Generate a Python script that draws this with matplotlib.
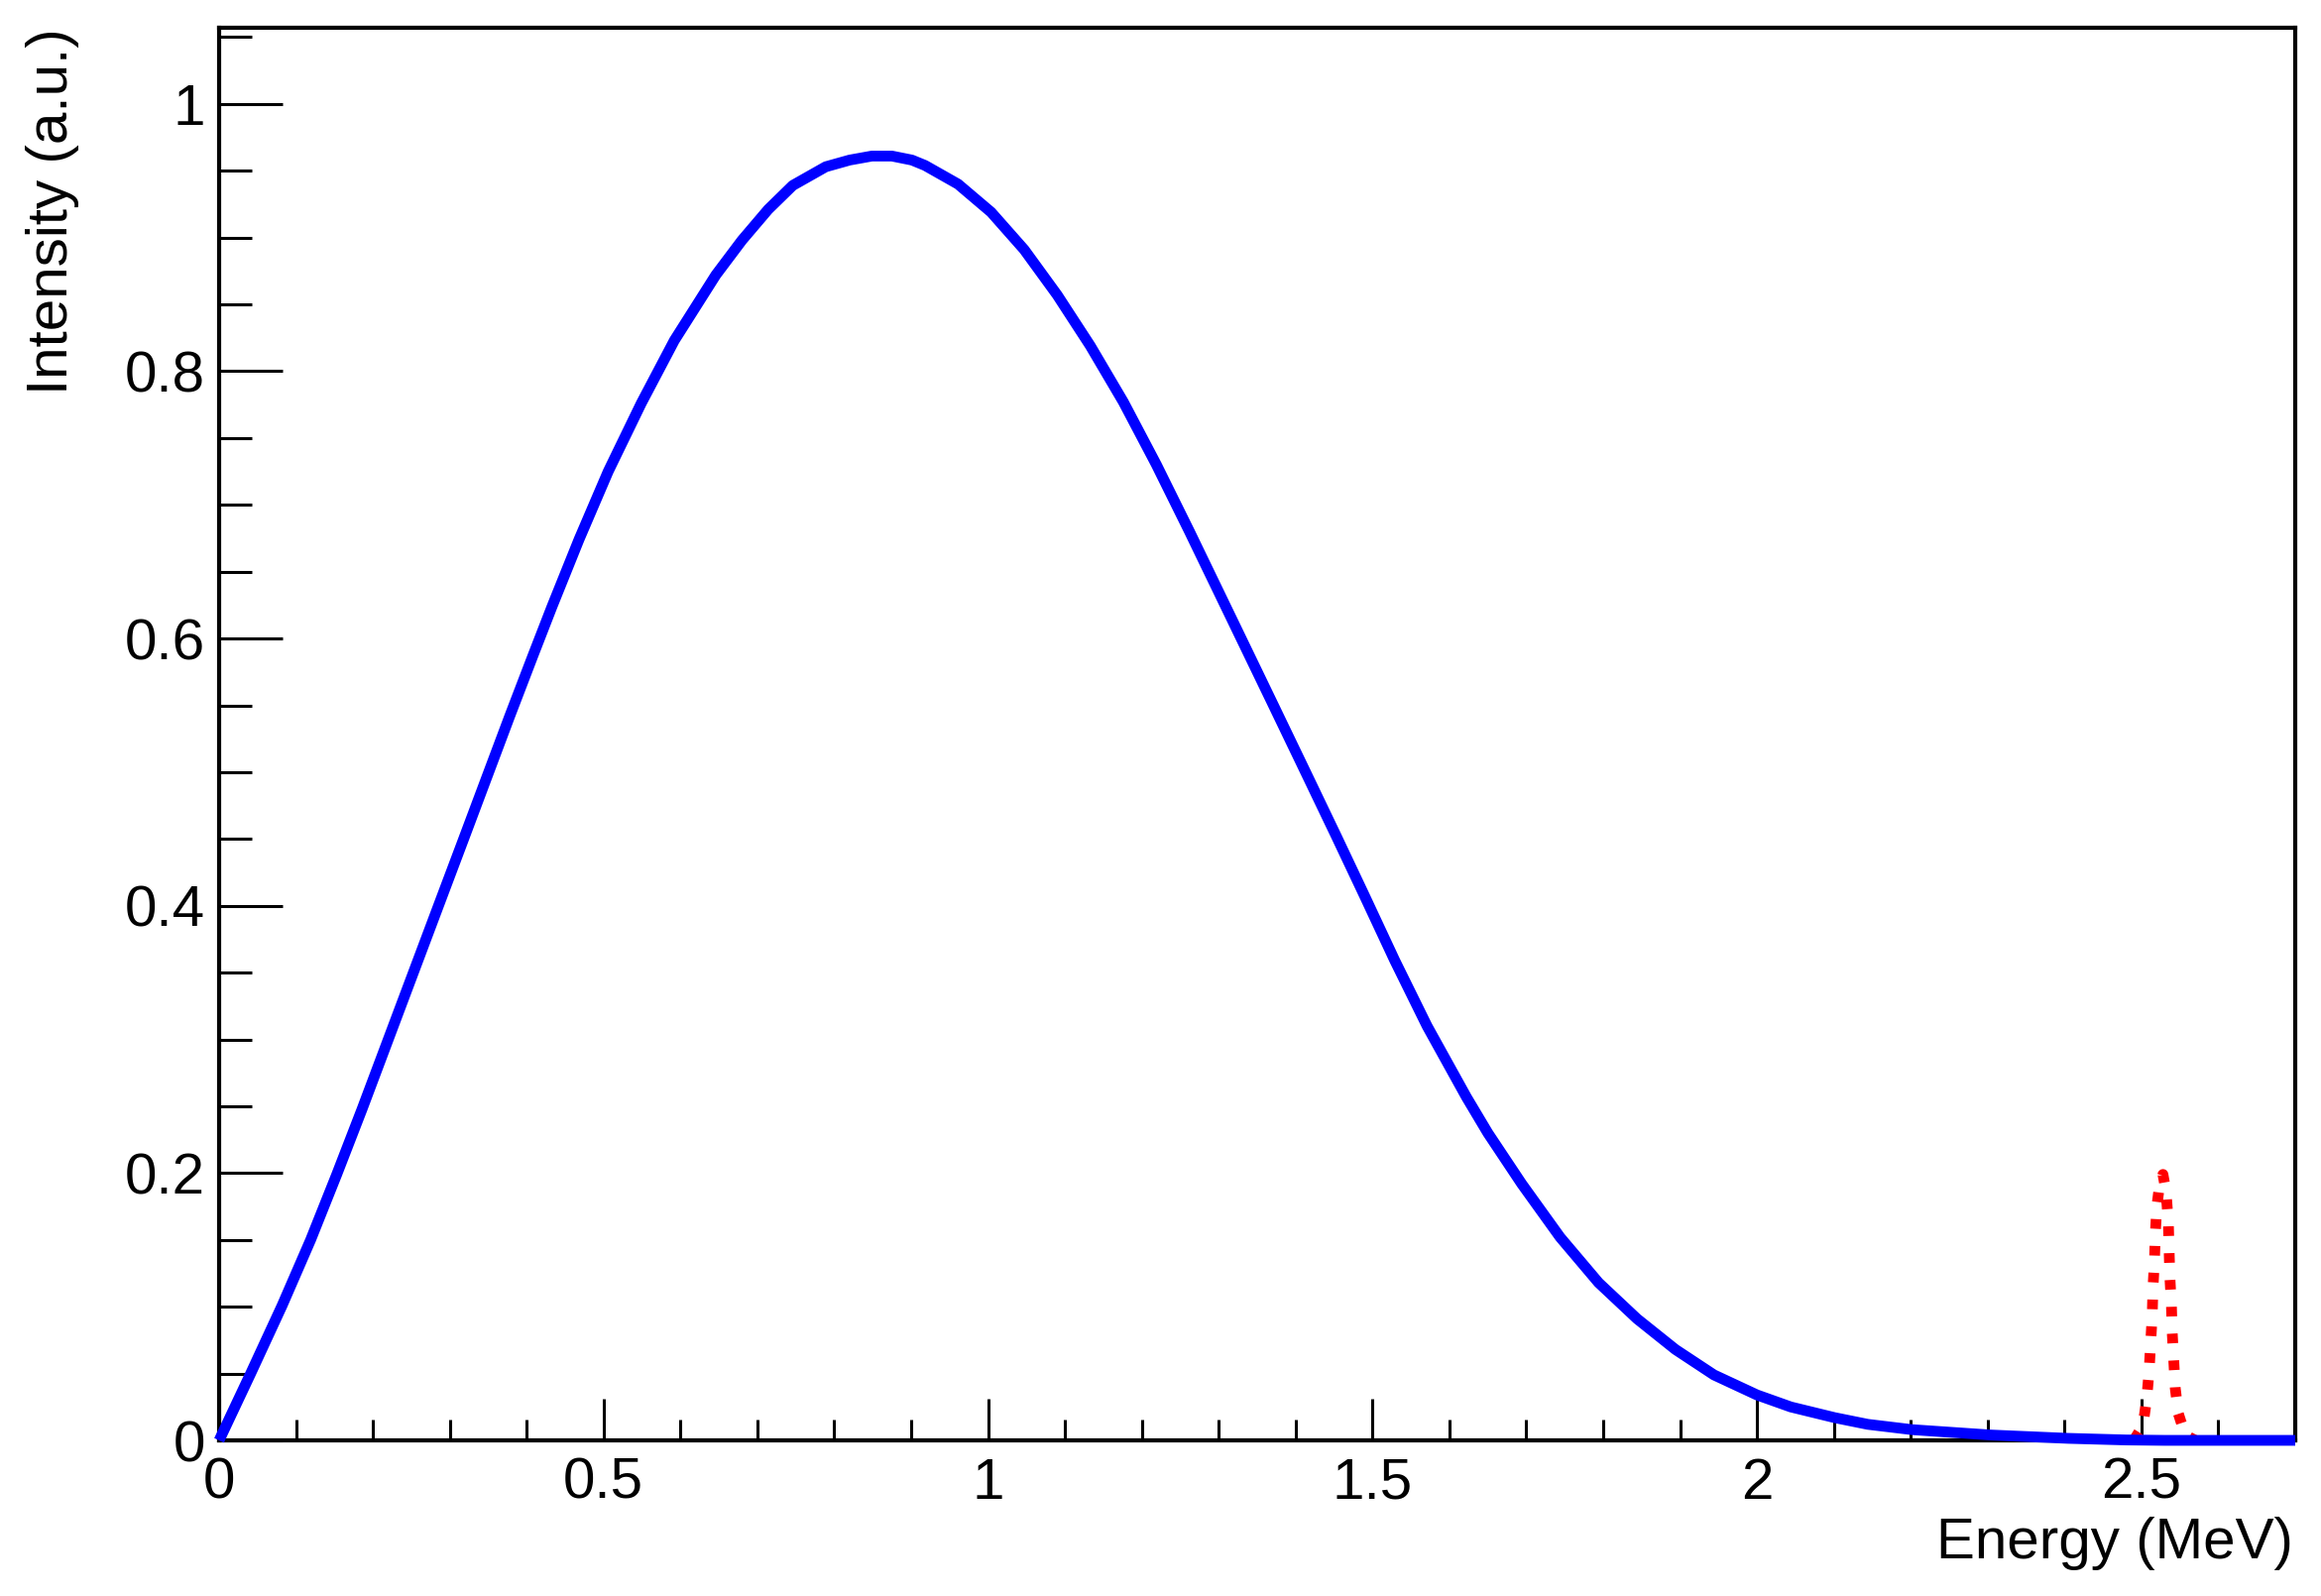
import matplotlib
matplotlib.use("Agg")
import matplotlib.pyplot as plt
from matplotlib.ticker import MultipleLocator, FuncFormatter

plt.rcParams['font.family'] = ['Liberation Sans', 'DejaVu Sans']

# Blue curve: two-neutrino spectrum
energy_2nu = [0.000, 0.041, 0.082, 0.119, 0.153, 0.186, 0.218, 0.250, 0.282, 0.318,
              0.348, 0.378, 0.408, 0.433, 0.468, 0.506, 0.549, 0.592, 0.646, 0.680,
              0.714, 0.746, 0.789, 0.820, 0.849, 0.875, 0.901, 0.918, 0.961, 1.004,
              1.047, 1.090, 1.133, 1.176, 1.219, 1.262, 1.304, 1.372, 1.413, 1.453,
              1.490, 1.529, 1.571, 1.622, 1.650, 1.694, 1.744, 1.794, 1.844, 1.894,
              1.944, 2.000, 2.044, 2.101, 2.144, 2.202, 2.304, 2.405, 2.480, 2.530,
              2.700]
intensity_2nu = [0.000, 0.050, 0.101, 0.150, 0.199, 0.248, 0.297, 0.346, 0.395, 0.450,
                 0.496, 0.542, 0.587, 0.624, 0.674, 0.725, 0.776, 0.823, 0.872, 0.898,
                 0.921, 0.939, 0.953, 0.958, 0.961, 0.961, 0.958, 0.954, 0.940, 0.919,
                 0.891, 0.857, 0.819, 0.777, 0.730, 0.680, 0.630, 0.549, 0.500, 0.452,
                 0.407, 0.359, 0.310, 0.257, 0.230, 0.192, 0.152, 0.118, 0.091, 0.068,
                 0.049, 0.034, 0.025, 0.017, 0.012, 0.008, 0.004, 0.0015, 0.0003, 0.0,
                 0.0]

# Red dotted peak
energy_0nu = [2.490, 2.502, 2.507, 2.510, 2.512, 2.514, 2.515, 2.517, 2.518, 2.520,
              2.524, 2.528, 2.532, 2.535, 2.536, 2.537, 2.539, 2.540, 2.542, 2.544,
              2.548, 2.557, 2.570]
intensity_0nu = [0.0, 0.011, 0.032, 0.052, 0.073, 0.093, 0.114, 0.135, 0.154, 0.175,
                 0.193, 0.199, 0.186, 0.163, 0.142, 0.122, 0.101, 0.081, 0.060, 0.039,
                 0.020, 0.004, 0.0]

x_limits = [0, 2.7]
y_limits = [0, 1.057]

W, H = 2341, 1610
fig = plt.figure(figsize=(W / 100, H / 100), dpi=100)
ax = fig.add_axes([221 / W, 1 - 1453 / H, (2315 - 221) / W, (1453 - 28) / H])
ax.set_xlim(*x_limits)
ax.set_ylim(*y_limits)

ax.plot(energy_0nu, intensity_0nu, color='#ff0000', lw=7.8,
        linestyle=(0, (0.9, 1.6)), dash_capstyle='butt', dash_joinstyle='round',
        zorder=2.8, clip_on=False)
ax.plot(energy_2nu, intensity_2nu, color='#0000ff', lw=7.8,
        solid_capstyle='butt', solid_joinstyle='round', zorder=3, clip_on=False)

for s in ax.spines.values():
    s.set_linewidth(3)
    s.set_color('black')

ax.xaxis.set_major_locator(MultipleLocator(0.5))
ax.xaxis.set_minor_locator(MultipleLocator(0.1))
ax.yaxis.set_major_locator(MultipleLocator(0.2))
ax.yaxis.set_minor_locator(MultipleLocator(0.05))
fmt = FuncFormatter(lambda v, p: '%g' % round(v, 3))
ax.xaxis.set_major_formatter(fmt)
ax.yaxis.set_major_formatter(fmt)

ax.tick_params(axis='x', which='major', direction='in', length=30, width=2.2,
               labelsize=42, pad=12, top=False)
ax.tick_params(axis='x', which='minor', direction='in', length=15, width=2.2, top=False)
ax.tick_params(axis='y', which='major', direction='in', length=46, width=2.2,
               labelsize=42, pad=10, right=False)
ax.tick_params(axis='y', which='minor', direction='in', length=24, width=2.2, right=False)

fig.text(53 / W, 1 - 28 / H, 'Intensity (a.u.)', rotation=90, ha='center', va='top',
         fontsize=42)
fig.text(2313 / W, 1 - 1572 / H, 'Energy (MeV)', ha='right', va='baseline', fontsize=42)

fig.savefig('out.png', dpi=100, facecolor='white')
